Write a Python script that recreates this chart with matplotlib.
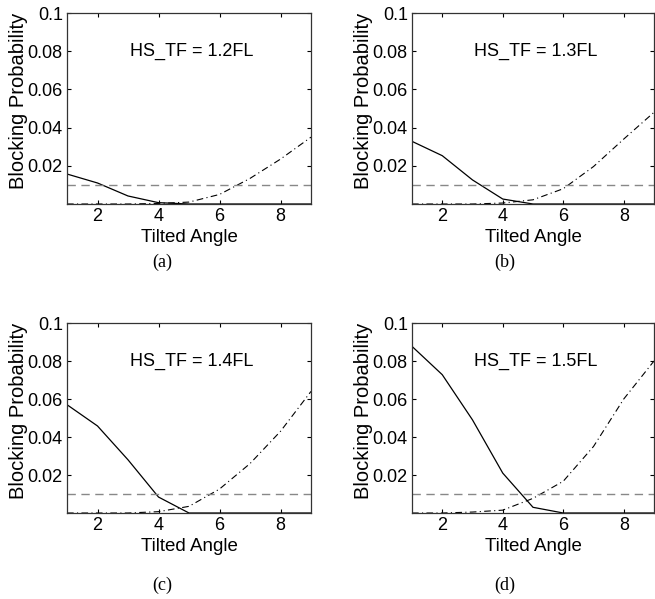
import numpy as np
import matplotlib.pyplot as plt

plt.rcParams['font.family'] = ['Liberation Sans', 'DejaVu Sans']

# tilted angle (x axis)
angle = [1, 2, 3, 4, 5, 6, 7, 8, 9]

# blocking probability, one pair of curves per panel
solid_a = [0.0157, 0.0110, 0.0042, 0.0007, 0.0, 0.0, 0.0, 0.0, 0.0]
dashdot_a = [0.0, 0.0, 0.0, 0.0003, 0.0010, 0.0050, 0.0134, 0.0235, 0.0350]

solid_b = [0.0328, 0.0253, 0.0126, 0.0026, 0.0, 0.0, 0.0, 0.0, 0.0]
dashdot_b = [0.0, 0.0, 0.0, 0.0005, 0.0022, 0.0080, 0.0196, 0.0340, 0.0480]

solid_c = [0.0570, 0.0458, 0.0280, 0.0084, 0.0, 0.0, 0.0, 0.0, 0.0]
dashdot_c = [0.0, 0.0, 0.0, 0.0007, 0.0035, 0.0126, 0.0260, 0.0430, 0.0640]

solid_d = [0.0877, 0.0728, 0.0490, 0.0210, 0.0030, 0.0, 0.0, 0.0, 0.0]
dashdot_d = [0.0, 0.0, 0.0005, 0.0015, 0.0077, 0.0167, 0.0350, 0.0600, 0.0800]

threshold = 0.01
hs_tf = ['1.2FL', '1.3FL', '1.4FL', '1.5FL']
panel_names = ['(a)', '(b)', '(c)', '(d)']
solids = [solid_a, solid_b, solid_c, solid_d]
dashdots = [dashdot_a, dashdot_b, dashdot_c, dashdot_d]

W, H = 655, 599
fig = plt.figure(figsize=(W / 100, H / 100), dpi=100)

# axes boxes in pixels: left, top, right, bottom
boxes = [(67, 13, 311, 204), (412, 13, 654, 204),
         (67, 323, 311, 513), (412, 323, 654, 513)]
# panel caption centres in pixels
captions = [(162, 262), (505, 262), (162, 585), (505, 585)]

for i, (l, t, r, b) in enumerate(boxes):
    ax = fig.add_axes([l / W, 1 - b / H, (r - l) / W, (b - t) / H])
    ax.plot(angle, solids[i], color='black', lw=0.9)
    ax.plot(angle, dashdots[i], color='black', lw=0.8, linestyle=(0, (6, 3, 1, 3)))
    ax.axhline(threshold, color='#888888', lw=1.0, linestyle=(0, (6, 4)))

    ax.set_xlim(1, 9)
    ax.set_ylim(0, 0.1)
    ax.set_xticks([2, 4, 6, 8])
    ax.set_yticks([0.02, 0.04, 0.06, 0.08, 0.1])
    ax.set_yticklabels(['0.02', '0.04', '0.06', '0.08', '0.1'])
    ax.tick_params(direction='in', length=3, width=0.8, top=True, right=True,
                   labelsize=13, pad=3)
    for s in ax.spines.values():
        s.set_linewidth(0.9)
        s.set_color('#333333')

    ax.set_xlabel('Tilted Angle', fontsize=13.5, va='center')
    ax.xaxis.set_label_coords(0.5, -0.178)
    ax.set_ylabel('Blocking Probability', fontsize=14.5, va='center')
    ax.yaxis.set_label_coords(-0.2, 0.54)

    ax.text(5.1, 0.08, 'HS_TF = ' + hs_tf[i], fontsize=13, ha='center', va='center')

    cx, cy = captions[i]
    fig.text(cx / W, 1 - cy / H, panel_names[i],
             family='Liberation Serif', fontsize=13, ha='center', va='center')

fig.savefig('out.png', dpi=100)
